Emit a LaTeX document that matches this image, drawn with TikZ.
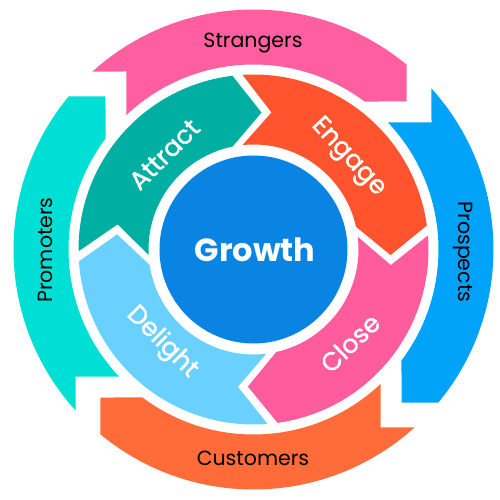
\documentclass[tikz,border=0pt]{standalone}
\usepackage{fontspec}
\setmainfont{Poppins}
\newfontfamily\popmid{Poppins}[FakeBold=1.3]
\definecolor{cGrowth}{HTML}{0984E3}
\definecolor{cAttract}{HTML}{00AFA2}
\definecolor{cEngage}{HTML}{FF542D}
\definecolor{cClose}{HTML}{FF5C9E}
\definecolor{cDelight}{HTML}{6AD1FF}
\definecolor{cStrangers}{HTML}{FF5FA0}
\definecolor{cProspects}{HTML}{00A3F7}
\definecolor{cCustomers}{HTML}{FF6B39}
\definecolor{cPromoters}{HTML}{00DFD6}
\tikzset{
  innerlabel/.style={text=white, font=\popmid\fontsize{25.5}{25.5}\selectfont, inner sep=0pt},
  outerlabel/.style={text=black, font=\fontsize{20.5}{20.5}\selectfont, inner sep=0pt},
}
\begin{document}
\begin{tikzpicture}
\useasboundingbox (-253.5pt,-250.5pt) rectangle (246.5pt,249.5pt);
% outer ring arrows
\foreach \col/\rot in {cStrangers/0, cProspects/-90, cCustomers/-180, cPromoters/-270}{
  \begin{scope}[rotate=\rot]
  \fill[\col] (132.14:240pt) arc[start angle=132.14, end angle=50.39, radius=240pt]
    -- (153pt,148pt) -- (53.13:185pt) arc[start angle=53.13, end angle=133.36, radius=185pt]
    -- (-127pt,178pt) -- cycle;
  \end{scope}
}
% inner ring chevrons
\foreach \col/\a/\b in {cAttract/87/0, cEngage/0/-89, cClose/-89/-179, cDelight/-179/-273}{
  \pgfmathsetmacro\sa{93.6+\a}
  \pgfmathsetmacro\ea{96.9+\b}
  \pgfmathsetmacro\ta{86.66+\b}
  \pgfmathsetmacro\ia{101.5+\b}
  \pgfmathsetmacro\ja{96.0+\a}
  \pgfmathsetmacro\na{82.52+\a}
  \fill[\col] (\sa:175pt) arc[start angle=\sa, end angle=\ea, radius=175pt]
    -- (\ta:137.2pt) -- (\ia:105pt) arc[start angle=\ia, end angle=\ja, radius=105pt]
    -- (\na:138.2pt) -- cycle;
}
% centre
\node[circle, fill=cGrowth, minimum size=188pt, inner sep=0pt] (centre) at (0,0) {};
\node[text=white, font=\fontsize{32}{32}\selectfont\bfseries, inner sep=0pt] (growth) at (1.5pt,0pt) {Growth};
% inner labels
\node[innerlabel, rotate=45] (attract) at (-89pt,95pt) {Attract};
\node[innerlabel, rotate=-47] (engage) at (94.5pt,92pt) {Engage};
\node[innerlabel, rotate=44] (close) at (96.5pt,-93.5pt) {Close};
\node[innerlabel, rotate=-45] (delight) at (-91.5pt,-93pt) {Delight};
% outer labels
\node[outerlabel] (strangers) at (-0.5pt,206.5pt) {Strangers};
\node[outerlabel, rotate=-90] (prospects) at (209.5pt,-2.5pt) {Prospects};
\node[outerlabel] (customers) at (-0.5pt,-208.5pt) {Customers};
\node[outerlabel, rotate=90] (promoters) at (-208.5pt,-0.5pt) {Promoters};
\end{tikzpicture}
\end{document}
